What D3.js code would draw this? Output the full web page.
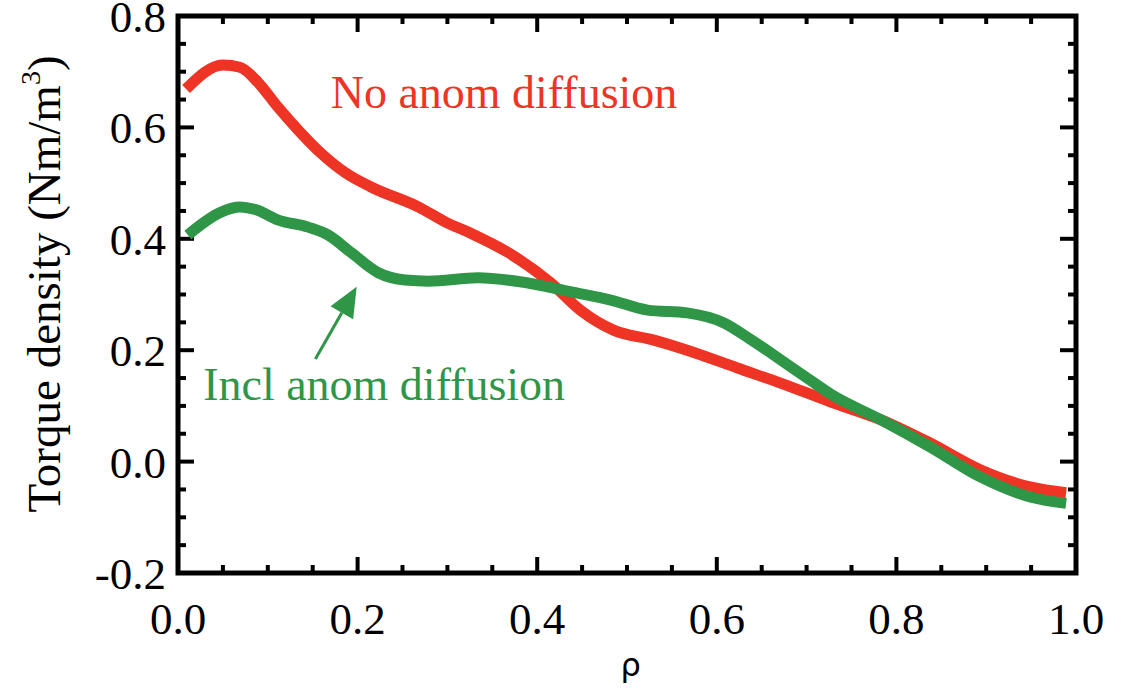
<!DOCTYPE html>
<html>
<head>
<meta charset="utf-8">
<script src="https://cdn.jsdelivr.net/npm/d3@7"></script>
<style>
  html, body { margin: 0; padding: 0; background: #fff; }
  svg { display: block; }
</style>
</head>
<body>
<svg id="chart" width="1122" height="689"></svg>
<script>
// Radial profiles of torque density versus normalised radius rho
const rho = [0.009, 0.050, 0.069, 0.089, 0.111, 0.134, 0.159, 0.186, 0.215, 0.268, 0.298, 0.326, 0.367, 0.415, 0.448, 0.485, 0.530, 0.567, 0.623, 0.671, 0.727, 0.783, 0.838, 0.894, 0.950, 0.989];
const noAnom = [0.669, 0.712, 0.708, 0.681, 0.637, 0.595, 0.554, 0.519, 0.493, 0.457, 0.430, 0.410, 0.376, 0.321, 0.272, 0.236, 0.218, 0.200, 0.168, 0.141, 0.107, 0.075, 0.033, -0.015, -0.046, -0.056];

const rhoAnom = [0.011, 0.048, 0.069, 0.087, 0.111, 0.145, 0.167, 0.193, 0.223, 0.253, 0.279, 0.334, 0.381, 0.437, 0.482, 0.523, 0.567, 0.608, 0.638, 0.671, 0.705, 0.727, 0.783, 0.838, 0.894, 0.950, 0.989];
const inclAnom = [0.407, 0.448, 0.457, 0.452, 0.434, 0.421, 0.407, 0.375, 0.339, 0.326, 0.324, 0.330, 0.323, 0.305, 0.290, 0.272, 0.267, 0.249, 0.219, 0.183, 0.145, 0.121, 0.075, 0.026, -0.028, -0.064, -0.075];

const xTicks = [0.0, 0.2, 0.4, 0.6, 0.8, 1.0];
const xTickLabels = ["0.0", "0.2", "0.4", "0.6", "0.8", "1.0"];
const yTicks = [-0.2, 0.0, 0.2, 0.4, 0.6, 0.8];
const yTickLabels = ["-0.2", "0.0", "0.2", "0.4", "0.6", "0.8"];
const minorStep = 0.05;

const RED = "#ee3424";
const GREEN = "#2e9646";

const svg = d3.select("#chart");
const plotL = 178, plotR = 1076, plotT = 16, plotB = 573;

const x = d3.scaleLinear().domain([0, 1]).range([plotL, plotR]);
const y = d3.scaleLinear().domain([-0.2, 0.8]).range([plotB, plotT]);

const serif = "'Liberation Serif', 'Times New Roman', serif";

// minor tick positions (every 0.05)
const xMinor = d3.range(0, 1 + 1e-9, minorStep).map(v => +v.toFixed(2));
const yMinor = d3.range(-0.2, 0.8 + 1e-9, minorStep).map(v => +v.toFixed(2));

const ticks = svg.append("g").attr("stroke", "#000").attr("stroke-width", 4);
const majorLen = 16, minorLen = 8;
const isMajor = v => Math.abs(v / 0.2 - Math.round(v / 0.2)) < 1e-6;

// bottom and top ticks
xMinor.forEach(v => {
  const len = isMajor(v) ? majorLen : minorLen;
  ticks.append("line").attr("x1", x(v)).attr("x2", x(v)).attr("y1", plotB).attr("y2", plotB - len);
  ticks.append("line").attr("x1", x(v)).attr("x2", x(v)).attr("y1", plotT).attr("y2", plotT + len);
});
// left and right ticks
yMinor.forEach(v => {
  const len = isMajor(v) ? majorLen : minorLen;
  ticks.append("line").attr("y1", y(v)).attr("y2", y(v)).attr("x1", plotL).attr("x2", plotL + len);
  ticks.append("line").attr("y1", y(v)).attr("y2", y(v)).attr("x1", plotR).attr("x2", plotR - len);
});

// frame
svg.append("rect")
  .attr("x", plotL).attr("y", plotT)
  .attr("width", plotR - plotL).attr("height", plotB - plotT)
  .attr("fill", "none").attr("stroke", "#000").attr("stroke-width", 5);

// tick labels
svg.append("g").selectAll("text").data(xTicks).join("text")
  .attr("x", d => x(d)).attr("y", 634)
  .attr("text-anchor", "middle")
  .attr("font-family", serif).attr("font-size", 45)
  .text((d, i) => xTickLabels[i]);

svg.append("g").selectAll("text").data(yTicks).join("text")
  .attr("x", 166).attr("y", d => y(d) + 16)
  .attr("text-anchor", "end")
  .attr("font-family", serif).attr("font-size", 45)
  .text((d, i) => yTickLabels[i]);

// axis titles
const yTitle = svg.append("text")
  .attr("transform", "translate(60,284) rotate(-90)")
  .attr("text-anchor", "middle")
  .attr("font-family", serif).attr("font-size", 47);
yTitle.append("tspan").text("Torque density (Nm/m");
yTitle.append("tspan").attr("font-size", 28).attr("dy", -20).text("3");
yTitle.append("tspan").attr("dy", 20).text(")");

svg.append("text")
  .attr("x", x(0.504)).attr("y", 676)
  .attr("text-anchor", "middle")
  .attr("font-family", "'DejaVu Sans', sans-serif").attr("font-size", 32)
  .text("ρ");

// profiles
const line = d3.line().curve(d3.curveMonotoneX);

svg.append("path")
  .attr("d", line(rho.map((r, i) => [x(r), y(noAnom[i])])))
  .attr("fill", "none").attr("stroke", RED).attr("stroke-width", 11)
  .attr("stroke-linejoin", "round");

svg.append("path")
  .attr("d", line(rhoAnom.map((r, i) => [x(r), y(inclAnom[i])])))
  .attr("fill", "none").attr("stroke", GREEN).attr("stroke-width", 11)
  .attr("stroke-linejoin", "round");

// labels
svg.append("text")
  .attr("x", x(0.170)).attr("y", y(0.635))
  .attr("font-family", serif).attr("font-size", 46).attr("fill", RED)
  .text("No anom diffusion");

svg.append("text")
  .attr("x", x(0.028)).attr("y", y(0.111))
  .attr("font-family", serif).attr("font-size", 46).attr("fill", GREEN)
  .text("Incl anom diffusion");

// arrow pointing from the label to the green profile
const arrowFrom = [0.153, 0.184], arrowTo = [0.199, 0.314];
const ax0 = x(arrowFrom[0]), ay0 = y(arrowFrom[1]);
const ax1 = x(arrowTo[0]), ay1 = y(arrowTo[1]);
const ang = Math.atan2(ay1 - ay0, ax1 - ax0);
const headLen = 30, headHalf = 13;
const bx = ax1 - headLen * Math.cos(ang), by = ay1 - headLen * Math.sin(ang);
svg.append("line")
  .attr("x1", ax0).attr("y1", ay0).attr("x2", bx).attr("y2", by)
  .attr("stroke", GREEN).attr("stroke-width", 3);
svg.append("path")
  .attr("d", d3.line()([
    [ax1, ay1],
    [bx + headHalf * Math.sin(ang), by - headHalf * Math.cos(ang)],
    [bx - headHalf * Math.sin(ang), by + headHalf * Math.cos(ang)]
  ]) + "Z")
  .attr("fill", GREEN);
</script>
</body>
</html>
